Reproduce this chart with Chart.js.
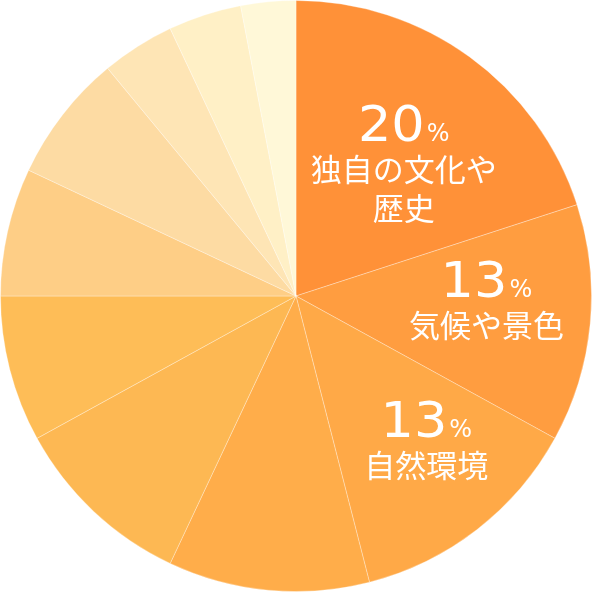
<!DOCTYPE html>
<html>
<head>
<meta charset="utf-8">
<script src="https://cdn.jsdelivr.net/npm/chart.js@4.4.1/dist/chart.umd.min.js"></script>
<style>
  html, body { margin: 0; padding: 0; background: #fff; }
  #wrap { width: 592px; height: 592px; }
</style>
</head>
<body>
<div id="wrap"><canvas id="pieChart"></canvas></div>
<script>
// Data
const categories = ['独自の文化や\n歴史', '気候や景色', '自然環境', '', '', '', '', '', '', '', ''];
const shares = [20, 13, 13, 11, 10, 8, 7, 7, 4, 4, 3];
const labelled = [true, true, true, false, false, false, false, false, false, false, false];
const sliceColors = ['#FF9138', '#FF9D40', '#FFA947', '#FFAD4A', '#FDB853', '#FEBD57',
                     '#FECE86', '#FDDBA3', '#FEE5B5', '#FFF0C6', '#FFF8D8'];

// draws "20%" + category text inside the big slices
const sliceLabels = {
    id: 'sliceLabels',
    afterDatasetsDraw(chart, args, opts) {
        const c = chart.ctx;
        const meta = chart.getDatasetMeta(0);
        meta.data.forEach((arc, i) => {
            if (!labelled[i]) return;
            const p = arc.getProps(['x', 'y', 'startAngle', 'endAngle', 'outerRadius'], true);
            const mid = (p.startAngle + p.endAngle) / 2;
            const r = p.outerRadius * 0.62;
            const nudge = (opts.nudge && opts.nudge[i]) || [0, 0];
            const cx = p.x + Math.cos(mid) * r + nudge[0];
            const cy = p.y + Math.sin(mid) * r + nudge[1];

            const lines = categories[i].split('\n');
            const height = 36 + 28 + (lines.length - 1) * 39 + 16;
            const top = cy - height / 2;
            const base = top + 34;

            c.save();
            c.fillStyle = '#fff';
            c.textBaseline = 'alphabetic';
            // number + small percent sign
            const num = String(shares[i]);
            const sx = 1.05;
            c.font = '50px "DejaVu Sans"';
            const nw = c.measureText(num).width * sx;
            c.font = '24px "DejaVu Sans"';
            const pw = c.measureText('%').width;
            const startX = cx - (nw + pw + 2) / 2;
            c.save();
            c.translate(startX, base);
            c.scale(sx, 1);
            c.font = '50px "DejaVu Sans"';
            c.textAlign = 'left';
            c.fillText(num, 0, 0);
            c.restore();
            c.font = '24px "DejaVu Sans"';
            c.textAlign = 'left';
            c.fillText('%', startX + nw + 2, base);

            c.font = '31px "Noto Sans CJK JP"';
            c.textAlign = 'center';
            c.textBaseline = 'middle';
            lines.forEach((ln, k) => {
                c.fillText(ln, cx, base + 28 + k * 39);
            });
            c.restore();
        });
    }
};

document.addEventListener('DOMContentLoaded', function() {
    const ctx = document.getElementById('pieChart');
    new Chart(ctx, {
        type: 'pie',
        data: {
            labels: categories,
            datasets: [{
                data: shares,
                backgroundColor: sliceColors,
                borderColor: 'rgba(255,255,255,0.3)',
                borderWidth: 1
            }]
        },
        options: {
            responsive: true,
            maintainAspectRatio: false,
            animation: false,
            layout: { padding: 0 },
            plugins: {
                legend: { display: false },
                tooltip: { enabled: false },
                sliceLabels: {
                    nudge: [[0, 19], [8, -10], [18, 2]]
                }
            }
        },
        plugins: [sliceLabels]
    });
});
</script>
</body>
</html>
